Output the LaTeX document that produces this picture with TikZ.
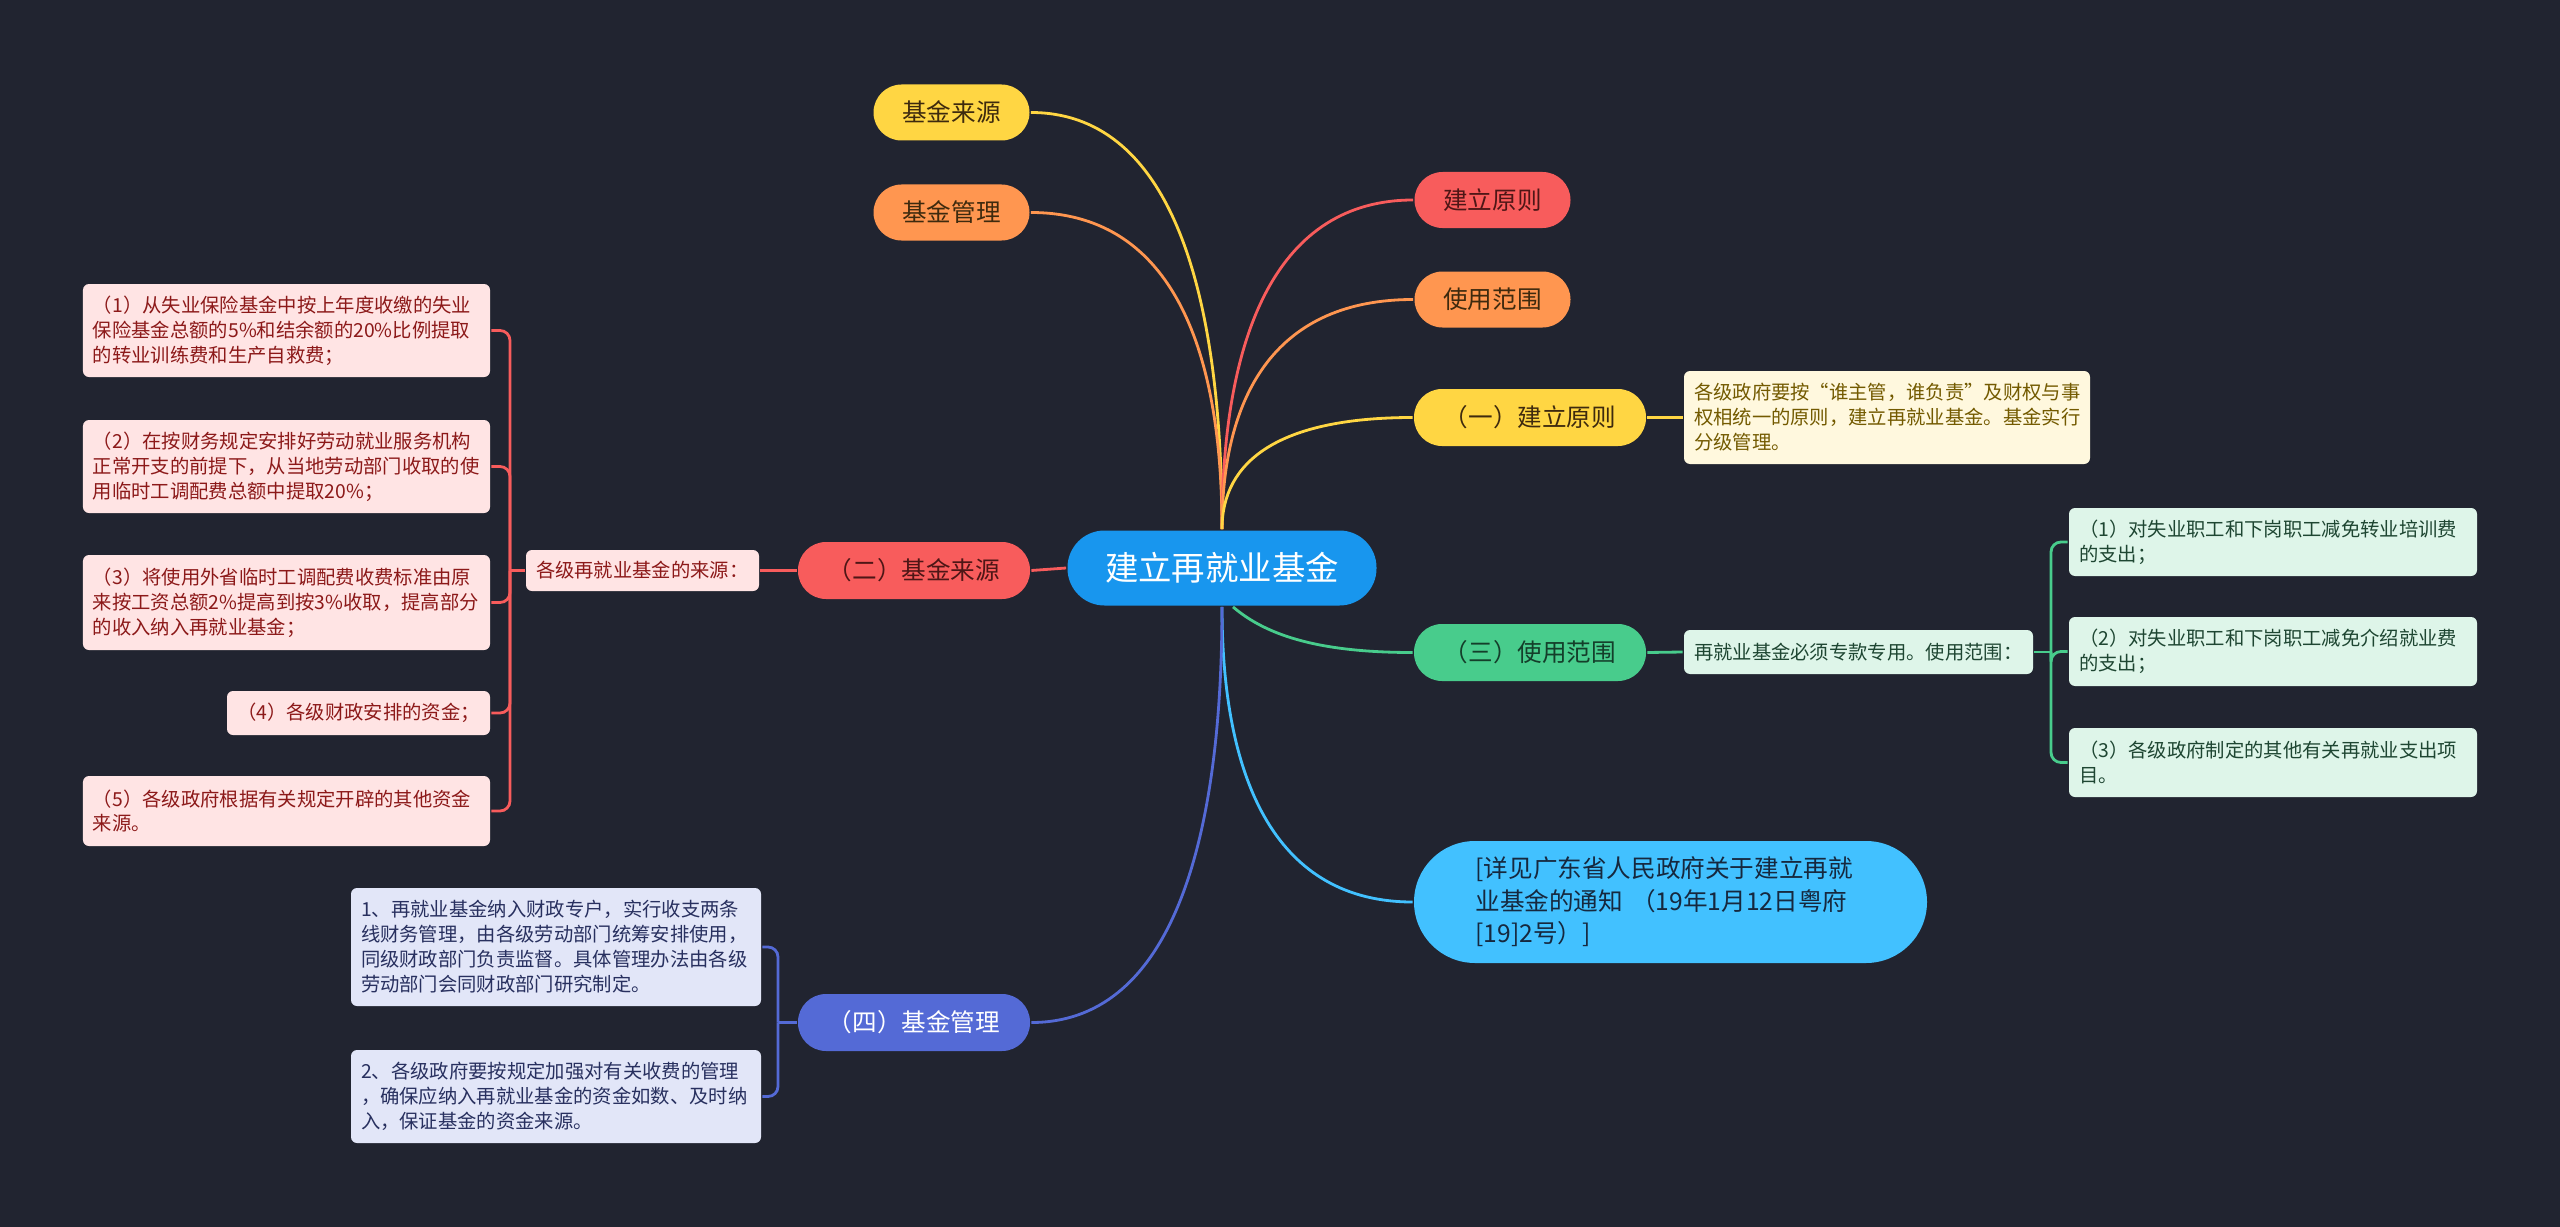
\documentclass[tikz,border=0pt]{standalone}
\usepackage{fontspec}
\setmainfont{Noto Sans CJK SC}
\usetikzlibrary{positioning}

\definecolor{bgdark}{RGB}{33,36,48}
\definecolor{rootblue}{RGB}{24,150,238}
\definecolor{fundyellow}{RGB}{255,214,67}
\definecolor{fundorange}{RGB}{255,150,80}
\definecolor{fundred}{RGB}{248,92,92}
\definecolor{fundgreen}{RGB}{72,204,140}
\definecolor{fundsky}{RGB}{66,193,255}
\definecolor{fundindigo}{RGB}{84,106,214}
\definecolor{darkbrown}{RGB}{62,42,14}
\definecolor{darkwine}{RGB}{78,22,22}
\definecolor{darkpine}{RGB}{20,62,42}
\definecolor{darknavy}{RGB}{22,40,62}
\definecolor{pinkfill}{RGB}{255,228,228}
\definecolor{pinktext}{RGB}{140,25,25}
\definecolor{creamfill}{RGB}{255,248,222}
\definecolor{creamtext}{RGB}{115,90,0}
\definecolor{mintfill}{RGB}{222,245,233}
\definecolor{minttext}{RGB}{30,70,50}
\definecolor{lavfill}{RGB}{226,230,248}
\definecolor{lavtext}{RGB}{40,48,95}

\begin{document}
\begin{tikzpicture}[x=0.2mm, y=0.2mm, line width=1.6pt,
  every node/.style={font=\fontsize{14}{18.5}\selectfont},
  pill/.style={rounded corners=5.6mm, minimum width=46.4mm, minimum height=11.4mm, inner sep=0pt, align=center},
  tag/.style={pill, minimum width=31.2mm, minimum height=11.2mm},
  leaf/.style={rounded corners=1.2mm, inner xsep=2mm, inner ysep=0pt, align=left, font=\fontsize{11}{14.2}\selectfont}]

\fill[bgdark] (0,0) rectangle (2560,-1227);
\useasboundingbox (0,0) rectangle (2560,-1227);

% centre
\node[fill=rootblue, text=white, rounded corners=7.4mm, minimum width=61.8mm, minimum height=15mm, inner sep=0pt,
  font=\fontsize{19}{23}\selectfont] (root) at (1222,-568) {建立再就业基金};

% tags
\node[tag, fill=fundyellow, text=darkbrown] (src) at (951.5,-112.5) {基金来源};
\node[tag, fill=fundorange, text=darkbrown] (mgt) at (951.5,-212.5) {基金管理};
\node[tag, fill=fundred, text=darkwine] (prin) at (1492.5,-200) {建立原则};
\node[tag, fill=fundorange, text=darkbrown] (scope) at (1492.5,-299.5) {使用范围};

% main branches
\node[pill, fill=fundyellow, text=darkbrown] (p1) at (1530,-417.5) {（一）建立原则};
\node[pill, fill=fundred, text=darkwine] (p2) at (914,-570.5) {（二）基金来源};
\node[pill, fill=fundgreen, text=darkpine] (p3) at (1530,-652.5) {（三）使用范围};
\node[pill, fill=fundindigo, text=white] (p4) at (914,-1022.5) {（四）基金管理};
\node[fill=fundsky, text=darknavy, rounded corners=12.2mm, text width=78mm, inner xsep=12.3mm, inner ysep=0pt,
  minimum height=24.4mm, align=left] (cite) at (1670.5,-902)
  {[详见广东省人民政府关于建立再就\\业基金的通知 （19年1月12日粤府\\{[19]2号）]}};

% (一)
\node[leaf, fill=creamfill, text=creamtext, text width=77.2mm, minimum height=18.6mm] (rule) at (1887,-417.5)
  {各级政府要按“谁主管，谁负责”及财权与事\\权相统一的原则，建立再就业基金。基金实行\\分级管理。};

% (二)
\node[leaf, fill=pinkfill, text=pinktext, text width=42.6mm, minimum height=8.2mm] (lab2) at (642.5,-570.5) {各级再就业基金的来源：};
\node[leaf, fill=pinkfill, text=pinktext, text width=77.4mm, minimum height=18.6mm] (s1) at (286.5,-330.5)
  {（1）从失业保险基金中按上年度收缴的失业\\保险基金总额的5\%和结余额的20\%比例提取\\的转业训练费和生产自救费；};
\node[leaf, fill=pinkfill, text=pinktext, text width=77.4mm, minimum height=18.6mm] (s2) at (286.5,-466.5)
  {（2）在按财务规定安排好劳动就业服务机构\\正常开支的前提下，从当地劳动部门收取的使\\用临时工调配费总额中提取20\%；};
\node[leaf, fill=pinkfill, text=pinktext, text width=77.4mm, minimum height=19mm] (s3) at (286.5,-602.5)
  {（3）将使用外省临时工调配费收费标准由原\\来按工资总额2\%提高到按3\%收取，提高部分\\的收入纳入再就业基金；};
\node[leaf, fill=pinkfill, text=pinktext, text width=48.6mm, minimum height=8.8mm] (s4) at (358.5,-713)
  {（4）各级财政安排的资金；};
\node[leaf, fill=pinkfill, text=pinktext, text width=77.4mm, minimum height=14mm] (s5) at (286.5,-811)
  {（5）各级政府根据有关规定开辟的其他资金\\来源。};

% (三)
\node[leaf, fill=mintfill, text=minttext, text width=65.8mm, minimum height=8.8mm] (lab3) at (1858.5,-652) {再就业基金必须专款专用。使用范围：};
\node[leaf, fill=mintfill, text=minttext, text width=77.6mm, minimum height=13.6mm] (u1) at (2273,-542)
  {（1）对失业职工和下岗职工减免转业培训费\\的支出；};
\node[leaf, fill=mintfill, text=minttext, text width=77.6mm, minimum height=13.8mm] (u2) at (2273,-651.5)
  {（2）对失业职工和下岗职工减免介绍就业费\\的支出；};
\node[leaf, fill=mintfill, text=minttext, text width=77.6mm, minimum height=13.8mm] (u3) at (2273,-762.5)
  {（3）各级政府制定的其他有关再就业支出项\\目。};

% (四)
\node[leaf, fill=lavfill, text=lavtext, text width=78mm, minimum height=23.6mm] (m1) at (556,-947)
  {1、再就业基金纳入财政专户，实行收支两条\\线财务管理，由各级劳动部门统筹安排使用，\\同级财政部门负责监督。具体管理办法由各级\\劳动部门会同财政部门研究制定。};
\node[leaf, fill=lavfill, text=lavtext, text width=78mm, minimum height=18.6mm] (m2) at (556,-1096.5)
  {2、各级政府要按规定加强对有关收费的管理\\，确保应纳入再就业基金的资金如数、及时纳\\入，保证基金的资金来源。};

% curves from the centre
\draw[fundyellow] (root.north) .. controls +(0,251) and +(135,0) .. (src.east);
\draw[fundorange] (root.north) .. controls +(0,191) and +(135,0) .. (mgt.east);
\draw[fundred] (root.north) .. controls +(0,199) and +(-134,0) .. (prin.west);
\draw[fundorange] (root.north) .. controls +(0,139) and +(-134,0) .. (scope.west);
\draw[fundyellow] (root.north) .. controls +(0,68) and +(-134,0) .. (p1.west);
\draw[fundred] (root.west) -- (p2.east);
\draw[fundgreen] ([xshift=2.2mm]root.south) .. controls +(35,-30) and +(-90,0) .. (p3.west);
\draw[fundsky] (root.south) .. controls +(0,-178) and +(-134,0) .. (cite.west);
\draw[fundindigo] (root.south) .. controls +(0,-250) and +(134,0) .. (p4.east);

% sub links
\draw[fundyellow] (p1.east) -- (rule.west);

\draw[fundred] (p2.west) -- (lab2.east);
\coordinate (fork2) at (510,-570.5);
\draw[fundred] (lab2.west) -- (fork2);
\foreach \i in {1,...,5}
  \draw[fundred, rounded corners=2mm] (fork2) |- (s\i.east);

\draw[fundgreen] (p3.east) -- (lab3.west);
\coordinate (fork3) at (2051,-652);
\draw[fundgreen] (lab3.east) -- (fork3);
\foreach \i in {1,2,3}
  \draw[fundgreen, rounded corners=2mm] (fork3) |- (u\i.west);

\coordinate (fork4) at (778,-1022.5);
\draw[fundindigo] (p4.west) -- (fork4);
\foreach \i in {1,2}
  \draw[fundindigo, rounded corners=2mm] (fork4) |- (m\i.east);

\end{tikzpicture}
\end{document}
